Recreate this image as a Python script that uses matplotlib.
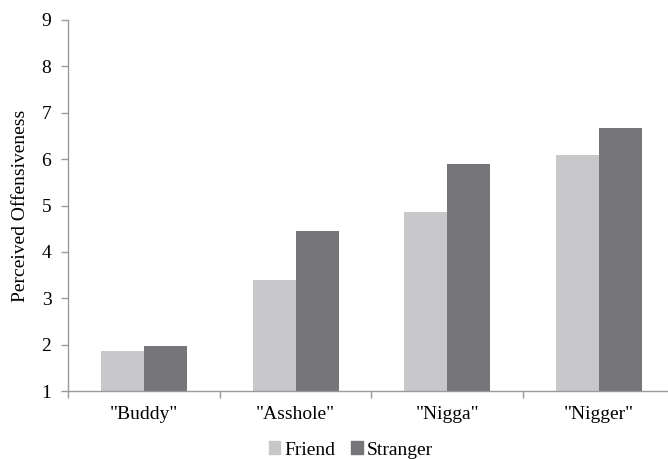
import numpy as np
import matplotlib.pyplot as plt
from matplotlib.patches import Patch

# data
categories = ['"Buddy"', '"Asshole"', '"Nigga"', '"Nigger"']
friend = [1.87, 3.40, 4.85, 6.09]
stranger = [1.96, 4.45, 5.89, 6.67]

LIGHT = "#c8c8ca"
DARK = "#76767a"
AXIS = "#9a9a9e"
FS = 14

plt.rcParams["font.family"] = ["Liberation Serif", "DejaVu Serif"]

fig = plt.figure(figsize=(6.68, 4.59), dpi=100)
ax = fig.add_axes([68 / 668, 1 - 391 / 459, 607 / 668, 371 / 459])

x = np.arange(len(categories))
w = 0.283
ax.bar(x - w / 2, np.array(friend) - 1, w, bottom=1, color=LIGHT, label="Friend")
ax.bar(x + w / 2, np.array(stranger) - 1, w, bottom=1, color=DARK, label="Stranger")

ax.set_xlim(-0.5, len(categories) - 0.5)
ax.set_ylim(1, 9)
ax.set_yticks(range(1, 10))
ax.set_xticks(np.arange(-0.5, len(categories), 1.0))
ax.set_xticklabels([])
ax.set_xticks(x, minor=True)
ax.set_xticklabels(categories, minor=True, fontsize=FS)
ax.tick_params(axis="x", which="minor", length=0, pad=11)
ax.tick_params(axis="x", which="major", length=5, color=AXIS, width=1)
ax.tick_params(axis="y", length=5, color=AXIS, width=1, labelsize=FS, pad=7)

for s in ["top", "right"]:
    ax.spines[s].set_visible(False)
for s in ["left", "bottom"]:
    ax.spines[s].set_color(AXIS)
    ax.spines[s].set_linewidth(1)

ax.set_ylabel("Perceived Offensiveness", fontsize=FS, labelpad=9)

handles = [Patch(color=LIGHT, label="Friend"), Patch(color=DARK, label="Stranger")]
fig.legend(handles=handles, loc="center", bbox_to_anchor=(0.525, 1 - 450 / 459),
           ncol=2, frameon=False, fontsize=FS, handlelength=0.6, handleheight=0.6,
           handletextpad=0.2, columnspacing=0.8)

fig.savefig("out.png", dpi=100)
